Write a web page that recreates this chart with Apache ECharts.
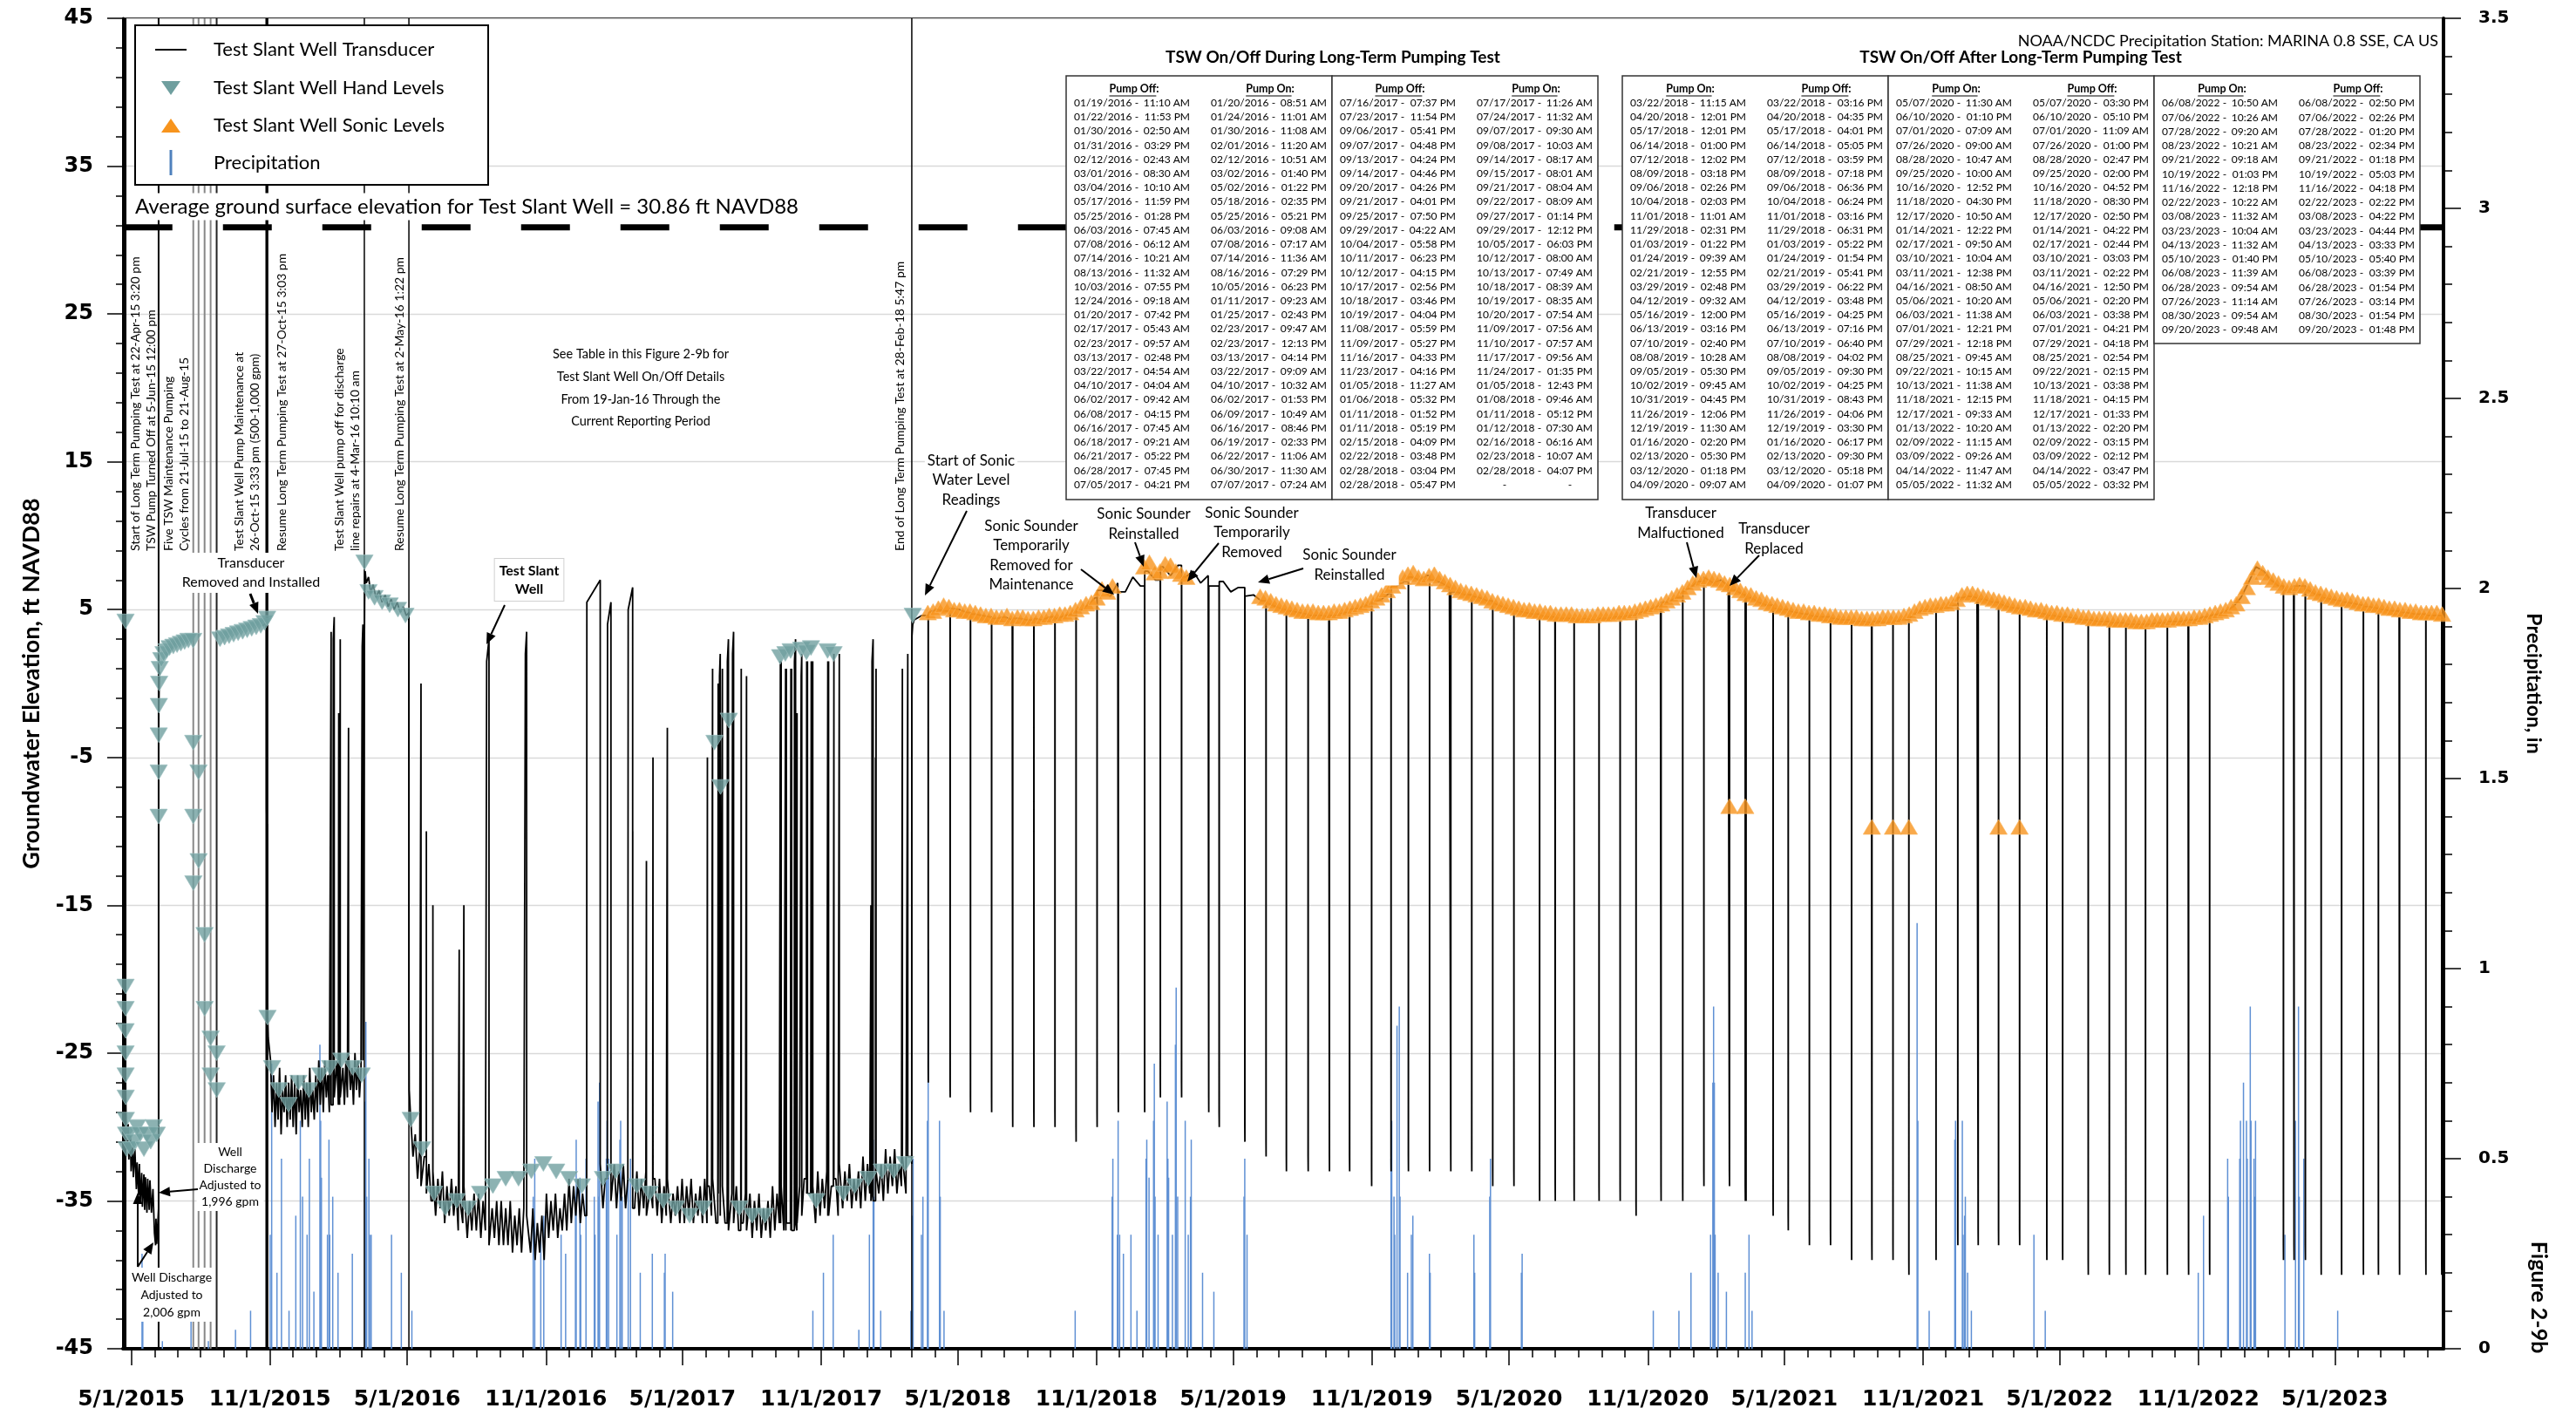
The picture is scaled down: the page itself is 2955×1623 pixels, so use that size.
<!DOCTYPE html>
<html>
<head>
<meta charset="utf-8">
<title>Figure 2-9b</title>
<script src="https://cdn.jsdelivr.net/npm/echarts@6/dist/echarts.min.js"></script>
<style>
html,body{margin:0;padding:0;background:#ffffff;}
#chart{width:2955px;height:1623px;}
</style>
</head>
<body>
<div id="chart"></div>
<script>
// ======================= DATA =======================
const X_MIN = '2015-04-20';
const X_MAX = '2023-09-22';
const xTickLabels = ['5/1/2015','11/1/2015','5/1/2016','11/1/2016','5/1/2017','11/1/2017','5/1/2018','11/1/2018','5/1/2019','11/1/2019','5/1/2020','11/1/2020','5/1/2021','11/1/2021','5/1/2022','11/1/2022','5/1/2023'];
const groundSurfaceElev = 30.86;

// Transducer: explicit readings (date, ft NAVD88)
const tsdEarly = [
 ['2015-04-20 00:00', 4.0], ['2015-04-22 15:20', 4.0], ['2015-04-22 17:00', -27], ['2015-04-23 12:00', -30.5],
 ['2015-04-25', -31.5], ['2015-04-26', -29.8], ['2015-04-27', -32.2], ['2015-04-29', -30.6], ['2015-04-30', -33], ['2015-05-02', -31.2], ['2015-05-03', -33.4], ['2015-05-05', -31.5],
 ['2015-05-07', -34.2], ['2015-05-08', -32.4], ['2015-05-10', -34.6], ['2015-05-11', -32.5], ['2015-05-12', -35.2], ['2015-05-14', -33.1], ['2015-05-15', -35.4], ['2015-05-17', -33.2],
 ['2015-05-18', -35.6], ['2015-05-19', -33.4], ['2015-05-21', -35.8], ['2015-05-22', -33.5], ['2015-05-24', -35.6], ['2015-05-25', -33.6], ['2015-05-27', -35.8], ['2015-05-29', -34.2],
 ['2015-05-31', -37.2], ['2015-06-01 12:00', -38.0], ['2015-06-02', -36.2], ['2015-06-03', -37.9], ['2015-06-05 11:00', -35.5],
 ['2015-06-05 13:00', -8], ['2015-06-05 18:00', -2], ['2015-06-06 12:00', 0.8], ['2015-06-07', null],
 ['2015-10-20', null], ['2015-10-21', 3.9], ['2015-10-26 15:30', 4.1], ['2015-10-26 17:00', -8.5],
 ['2015-10-27 06:00', -10], ['2015-10-27 15:00', -9.5], ['2015-10-27 18:00', -21.5], ['2015-10-29', -24]
];
const tsdC_start = '2015-11-01', tsdC_stepDays = 2;
const tsdC_vals = [
 -25.5,-29,-26.5,-30,-27,-29.5,-26,-30.5,-27.5,-29,-26.5,-30,-27,-29.5,-26.5,
 -30,-27,-30.5,-26.5,-29,-27.5,-30,-26.5,-29.5,-27,-30,-26,-29,-27.5,-29.5,-26.5,
 -29,-25.5,-28.5,-26,-29,-25.5,-28,-26.5,-29,-25.5,-28.5,-26,-28,-25.5,-28.5,
 -25,-28,-26,-28.5,-25.5,-28,-25,-27.5,-26,-28.5,-25,-27.5,-25.5,-28,-26
];
const tsdMarApr2016 = [
 ['2016-03-04 10:00', -25.5], ['2016-03-04 12:00', 2], ['2016-03-04 20:00', 5.5], ['2016-03-05 12:00', 7.6],
 ['2016-03-07', 6.8], ['2016-03-10', 7.2], ['2016-03-13', 6.1], ['2016-03-16', 6.7], ['2016-03-20', 5.8],
 ['2016-03-24', 6.3], ['2016-03-28', 5.5], ['2016-04-01', 6.0], ['2016-04-05', 5.2], ['2016-04-09', 5.7],
 ['2016-04-13', 5.0], ['2016-04-17', 5.5], ['2016-04-21', 4.8], ['2016-04-25', 5.2], ['2016-04-29', 4.6],
 ['2016-05-02 13:00', 4.8], ['2016-05-02 15:00', -22], ['2016-05-03', -27.5]
];
const tsdD_start = '2016-05-05', tsdD_stepDays = 3;
const tsdD_vals = [
 -29.5,-32,-30.5,-33.5,-31.5,-34,-32,-34.5,-32.5,-35,
 -33,-36,-33.5,-35.5,-33,-36.5,-34,-36,-33.5,-36,
 -34,-37,-34.5,-36.5,-34,-37.5,-35,-37,-34.5,-37,
 -34.5,-37.5,-35,-37,-34.5,-38,-35.5,-37.5,-35,-38,
 -35,-38,-35.5,-38,-35,-38.5,-36,-38,-35.5,-38.5,
 -35.5,-38.5,-36,-38.5,-35.5,-39,-36.5,-38.5,-36,-39,
 -34.5,-37.5,-35,-37,-34.5,-37.5,-35.5,-37,-34.5,-37,
 -33.5,-36.5,-34,-36,-33.5,-36.5,-34.5,-36,-33.5,-36,
 -32.5,-35.5,-33,-35,-32.5,-35.5,-33.5,-35,-32.5,-35,
 -32.5,-35.5,-33,-35,-32.5,-35.5,-33.5,-35,-33,-35.5,
 -33,-36,-33.5,-35.5,-33,-36,-34,-35.5,-33.5,-36,
 -33.5,-36.5,-34,-36,-33.5,-36.5,-34.5,-36,-34,-36.5,
 -33.5,-36.5,-34,-36,-33.5,-36.5,-34.5,-36,-34,-36.5,
 -33.5,-36.5,-34,-36,-33.5,-36.5,-34.5,-36,-34,-36.5,
 -34,-37,-34.5,-36.5,-34,-37,-35,-36.5,-34.5,-37,
 -34.5,-37.5,-35,-37,-34.5,-37.5,-35.5,-37,-35,-37.5,
 -34,-37,-34.5,-36.5,-34,-37,-35,-36.5,-34.5,-37,
 -33.5,-36.5,-34,-36,-33.5,-36.5,-34.5,-36,-34,-36.5,
 -33,-36,-33.5,-35.5,-33,-36,-34,-35.5,-33.5,-36,
 -32.5,-35.5,-33,-35,-32.5,-35.5,-33.5,-35,-33,-35.5,
 -32,-35,-32.5,-34.5,-32,-35,-33,-34.5,-32.5,-35,
 -31.5,-34.5,-32,-34,-31.5,-34.5,-32.5,-34,-32,-34.5,-32
];
const tsdEnd2018 = [['2018-02-28 17:40', -32.5], ['2018-02-28 19:00', 1.0], ['2018-03-01', 3.2], ['2018-03-02', 4.0]];
const tsdPost_start = '2018-03-04', tsdPost_stepDays = 10;
const tsdPost_vals = [
 4.3,4.6,4.8,5.0,4.9,5.1,5.0,4.8,4.7,4.6, 4.5,4.4,4.5,4.3,4.4,4.3,4.4,4.3,4.5,4.4,
 4.6,4.7,4.9,5.3,5.8,6.3,5.9,6.8,6.2,7.2, 6.6,7.6,7.0,7.9,7.3,8.0,7.2,7.6,6.8,7.3,
 6.6,6.9,6.2,6.5,5.9,6.0,5.6,5.4,5.2,5.0, 4.9,4.8,4.7,4.6,4.6,4.5,4.6,4.8,5.0,5.1,
 5.3,5.5,5.7,6.1,6.6,6.9,7.2,7.0,7.3,7.0, 6.8,6.5,6.2,6.0,5.9,5.8,5.6,5.4,5.2,5.0,
 4.9,4.8,4.7,4.6,4.5,4.5,4.4,4.4,4.3,4.4, 4.3,4.4,4.4,4.5,4.5,4.6,4.7,4.9,5.1,5.3,
 5.5,5.8,6.2,6.5,6.9,7.2,6.8,7.0,6.6,6.3, 6.0,5.8,5.5,5.3,5.1,5.0,4.9,4.8,4.7,4.6,
 4.5,4.5,4.4,4.3,4.3,4.2,4.2,4.1,4.2,4.1, 4.2,4.3,4.4,4.8,5.0,5.0,5.1,5.1,5.3,5.8,
 5.9,5.8,5.7,5.5,5.4,5.2,5.1,5.0,4.9,4.8, 4.7,4.6,4.5,4.5,4.4,4.3,4.3,4.2,4.2,4.1,
 4.1,4.0,4.0,4.0,4.0,4.1,4.1,4.2,4.2,4.3, 4.3,4.5,4.6,4.7,4.9,5.2,5.8,6.8,7.9,7.6,
 7.0,6.6,6.3,6.4,6.6,6.3,6.0,5.8,5.7,5.6, 5.5,5.4,5.3,5.2,5.1,5.0,4.9,4.9,4.8,4.7,
 4.7,4.6,4.6,4.6
];

// Table: TSW On/Off During Long-Term Pumping Test
const pumpOff1 = ['01/19/2016 - 11:10 AM','01/22/2016 - 11:53 PM','01/30/2016 - 02:50 AM','01/31/2016 - 03:29 PM','02/12/2016 - 02:43 AM','03/01/2016 - 08:30 AM','03/04/2016 - 10:10 AM','05/17/2016 - 11:59 PM','05/25/2016 - 01:28 PM','06/03/2016 - 07:45 AM','07/08/2016 - 06:12 AM','07/14/2016 - 10:21 AM','08/13/2016 - 11:32 AM','10/03/2016 - 07:55 PM','12/24/2016 - 09:18 AM','01/20/2017 - 07:42 PM','02/17/2017 - 05:43 AM','02/23/2017 - 09:57 AM','03/13/2017 - 02:48 PM','03/22/2017 - 04:54 AM','04/10/2017 - 04:04 AM','06/02/2017 - 09:42 AM','06/08/2017 - 04:15 PM','06/16/2017 - 07:45 AM','06/18/2017 - 09:21 AM','06/21/2017 - 05:22 PM','06/28/2017 - 07:45 PM','07/05/2017 - 04:21 PM',
 '07/16/2017 - 07:37 PM','07/23/2017 - 11:54 PM','09/06/2017 - 05:41 PM','09/07/2017 - 04:48 PM','09/13/2017 - 04:24 PM','09/14/2017 - 04:46 PM','09/20/2017 - 04:26 PM','09/21/2017 - 04:01 PM','09/25/2017 - 07:50 PM','09/29/2017 - 04:22 AM','10/04/2017 - 05:58 PM','10/11/2017 - 06:23 PM','10/12/2017 - 04:15 PM','10/17/2017 - 02:56 PM','10/18/2017 - 03:46 PM','10/19/2017 - 04:04 PM','11/08/2017 - 05:59 PM','11/09/2017 - 05:27 PM','11/16/2017 - 04:33 PM','11/23/2017 - 04:16 PM','01/05/2018 - 11:27 AM','01/06/2018 - 05:32 PM','01/11/2018 - 01:52 PM','01/11/2018 - 05:19 PM','02/15/2018 - 04:09 PM','02/22/2018 - 03:48 PM','02/28/2018 - 03:04 PM','02/28/2018 - 05:47 PM'];
const pumpOn1 = ['01/20/2016 - 08:51 AM','01/24/2016 - 11:01 AM','01/30/2016 - 11:08 AM','02/01/2016 - 11:20 AM','02/12/2016 - 10:51 AM','03/02/2016 - 01:40 PM','05/02/2016 - 01:22 PM','05/18/2016 - 02:35 PM','05/25/2016 - 05:21 PM','06/03/2016 - 09:08 AM','07/08/2016 - 07:17 AM','07/14/2016 - 11:36 AM','08/16/2016 - 07:29 PM','10/05/2016 - 06:23 PM','01/11/2017 - 09:23 AM','01/25/2017 - 02:43 PM','02/23/2017 - 09:47 AM','02/23/2017 - 12:13 PM','03/13/2017 - 04:14 PM','03/22/2017 - 09:09 AM','04/10/2017 - 10:32 AM','06/02/2017 - 01:53 PM','06/09/2017 - 10:49 AM','06/16/2017 - 08:46 PM','06/19/2017 - 02:33 PM','06/22/2017 - 11:06 AM','06/30/2017 - 11:30 AM','07/07/2017 - 07:24 AM',
 '07/17/2017 - 11:26 AM','07/24/2017 - 11:32 AM','09/07/2017 - 09:30 AM','09/08/2017 - 10:03 AM','09/14/2017 - 08:17 AM','09/15/2017 - 08:01 AM','09/21/2017 - 08:04 AM','09/22/2017 - 08:09 AM','09/27/2017 - 01:14 PM','09/29/2017 - 12:12 PM','10/05/2017 - 06:03 PM','10/12/2017 - 08:00 AM','10/13/2017 - 07:49 AM','10/18/2017 - 08:39 AM','10/19/2017 - 08:35 AM','10/20/2017 - 07:54 AM','11/09/2017 - 07:56 AM','11/10/2017 - 07:57 AM','11/17/2017 - 09:56 AM','11/24/2017 - 01:35 PM','01/05/2018 - 12:43 PM','01/08/2018 - 09:46 AM','01/11/2018 - 05:12 PM','01/12/2018 - 07:30 AM','02/16/2018 - 06:16 AM','02/23/2018 - 10:07 AM','02/28/2018 - 04:07 PM','-'];
// recovered level reached during each pump-off; null = drawn in explicit readings
const recovPeak1 = [3.5,4.5,-2,3,-3,4,null,0,-10,-15,-18,-15,3,3.5,7,5.5,6.5,-10,-12,-5,-3,-5,1,0,2,1,3,3.5,
 1,0.5,1.5,1.5,1,1,1,1,3,-2,2,1.5,1.5,1.5,1.5,1.5,1.5,1.5,2,2,-15,3,-5,1,1,2,-10,null];

// Table: TSW On/Off After Long-Term Pumping Test
const pumpOn2 = ['03/22/2018 - 11:15 AM','04/20/2018 - 12:01 PM','05/17/2018 - 12:01 PM','06/14/2018 - 01:00 PM','07/12/2018 - 12:02 PM','08/09/2018 - 03:18 PM','09/06/2018 - 02:26 PM','10/04/2018 - 02:03 PM','11/01/2018 - 11:01 AM','11/29/2018 - 02:31 PM','01/03/2019 - 01:22 PM','01/24/2019 - 09:39 AM','02/21/2019 - 12:55 PM','03/29/2019 - 02:48 PM','04/12/2019 - 09:32 AM','05/16/2019 - 12:00 PM','06/13/2019 - 03:16 PM','07/10/2019 - 02:40 PM','08/08/2019 - 10:28 AM','09/05/2019 - 05:30 PM','10/02/2019 - 09:45 AM','10/31/2019 - 04:45 PM','11/26/2019 - 12:06 PM','12/19/2019 - 11:30 AM','01/16/2020 - 02:20 PM','02/13/2020 - 05:30 PM','03/12/2020 - 01:18 PM','04/09/2020 - 09:07 AM',
 '05/07/2020 - 11:30 AM','06/10/2020 - 01:10 PM','07/01/2020 - 07:09 AM','07/26/2020 - 09:00 AM','08/28/2020 - 10:47 AM','09/25/2020 - 10:00 AM','10/16/2020 - 12:52 PM','11/18/2020 - 04:30 PM','12/17/2020 - 10:50 AM','01/14/2021 - 12:22 PM','02/17/2021 - 09:50 AM','03/10/2021 - 10:04 AM','03/11/2021 - 12:38 PM','04/16/2021 - 08:50 AM','05/06/2021 - 10:20 AM','06/03/2021 - 11:38 AM','07/01/2021 - 12:21 PM','07/29/2021 - 12:18 PM','08/25/2021 - 09:45 AM','09/22/2021 - 10:15 AM','10/13/2021 - 11:38 AM','11/18/2021 - 12:15 PM','12/17/2021 - 09:33 AM','01/13/2022 - 10:20 AM','02/09/2022 - 11:15 AM','03/09/2022 - 09:26 AM','04/14/2022 - 11:47 AM','05/05/2022 - 11:32 AM',
 '06/08/2022 - 10:50 AM','07/06/2022 - 10:26 AM','07/28/2022 - 09:20 AM','08/23/2022 - 10:21 AM','09/21/2022 - 09:18 AM','10/19/2022 - 01:03 PM','11/16/2022 - 12:18 PM','02/22/2023 - 10:22 AM','03/08/2023 - 11:32 AM','03/23/2023 - 10:04 AM','04/13/2023 - 11:32 AM','05/10/2023 - 01:40 PM','06/08/2023 - 11:39 AM','06/28/2023 - 09:54 AM','07/26/2023 - 11:14 AM','08/30/2023 - 09:54 AM','09/20/2023 - 09:48 AM'];
const pumpOff2 = ['03/22/2018 - 03:16 PM','04/20/2018 - 04:35 PM','05/17/2018 - 04:01 PM','06/14/2018 - 05:05 PM','07/12/2018 - 03:59 PM','08/09/2018 - 07:18 PM','09/06/2018 - 06:36 PM','10/04/2018 - 06:24 PM','11/01/2018 - 03:16 PM','11/29/2018 - 06:31 PM','01/03/2019 - 05:22 PM','01/24/2019 - 01:54 PM','02/21/2019 - 05:41 PM','03/29/2019 - 06:22 PM','04/12/2019 - 03:48 PM','05/16/2019 - 04:25 PM','06/13/2019 - 07:16 PM','07/10/2019 - 06:40 PM','08/08/2019 - 04:02 PM','09/05/2019 - 09:30 PM','10/02/2019 - 04:25 PM','10/31/2019 - 08:43 PM','11/26/2019 - 04:06 PM','12/19/2019 - 03:30 PM','01/16/2020 - 06:17 PM','02/13/2020 - 09:30 PM','03/12/2020 - 05:18 PM','04/09/2020 - 01:07 PM',
 '05/07/2020 - 03:30 PM','06/10/2020 - 05:10 PM','07/01/2020 - 11:09 AM','07/26/2020 - 01:00 PM','08/28/2020 - 02:47 PM','09/25/2020 - 02:00 PM','10/16/2020 - 04:52 PM','11/18/2020 - 08:30 PM','12/17/2020 - 02:50 PM','01/14/2021 - 04:22 PM','02/17/2021 - 02:44 PM','03/10/2021 - 03:03 PM','03/11/2021 - 02:22 PM','04/16/2021 - 12:50 PM','05/06/2021 - 02:20 PM','06/03/2021 - 03:38 PM','07/01/2021 - 04:21 PM','07/29/2021 - 04:18 PM','08/25/2021 - 02:54 PM','09/22/2021 - 02:15 PM','10/13/2021 - 03:38 PM','11/18/2021 - 04:15 PM','12/17/2021 - 01:33 PM','01/13/2022 - 02:20 PM','02/09/2022 - 03:15 PM','03/09/2022 - 02:12 PM','04/14/2022 - 03:47 PM','05/05/2022 - 03:32 PM',
 '06/08/2022 - 02:50 PM','07/06/2022 - 02:26 PM','07/28/2022 - 01:20 PM','08/23/2022 - 02:34 PM','09/21/2022 - 01:18 PM','10/19/2022 - 05:03 PM','11/16/2022 - 04:18 PM','02/22/2023 - 02:22 PM','03/08/2023 - 04:22 PM','03/23/2023 - 04:44 PM','04/13/2023 - 03:33 PM','05/10/2023 - 05:40 PM','06/08/2023 - 03:39 PM','06/28/2023 - 01:54 PM','07/26/2023 - 03:14 PM','08/30/2023 - 01:54 PM','09/20/2023 - 01:48 PM'];
// deepest level during each pumping run
const drawdown2 = [-27,-28,-29,-29,-30,-30,-30,-31,-30,-29, -29,-28,-28,-29,-30,-31,-32,-33,-33,-33,-33,-34,-33,-33, -33,-33,-33,-34,
 -34,-35,-35,-35,-35,-35,-36,-35,-35,-34,-34,-35,-35,-36,-37,-38,-38,-39,-39,-39,-40,-39,-38,-38,-38,-38,-39,-39,
 -40,-40,-40,-40,-40,-40,-40,-39,-39,-39,-40,-40,-40,-40,-40,-40,-40];

// Hand levels
const handLevels = [
 ['2015-04-22 15:00', 4.2], ['2015-04-22 16:00', -20.5], ['2015-04-22 16:20', -22], ['2015-04-22 16:40', -23.5], ['2015-04-22 17:00', -25],
 ['2015-04-22 18:00', -26.5], ['2015-04-22 20:00', -28], ['2015-04-23 00:00', -29.5], ['2015-04-23 08:00', -30.5], ['2015-04-24', -31.5],
 ['2015-04-27', -30.5], ['2015-04-30', -31.5], ['2015-05-04', -31], ['2015-05-08', -30], ['2015-05-12', -30.5], ['2015-05-17', -31.5],
 ['2015-05-21', -30.5], ['2015-05-26', -31], ['2015-05-30', -30], ['2015-06-03', -30.5],
 ['2015-06-05 13:00', -9], ['2015-06-05 14:00', -6], ['2015-06-05 16:00', -3.5], ['2015-06-05 20:00', -1.5], ['2015-06-06 06:00', 0],
 ['2015-06-07', 1.0], ['2015-06-09', 1.6], ['2015-06-12', 2.0], ['2015-06-16', 2.2], ['2015-06-20', 2.4], ['2015-06-25', 2.5],
 ['2015-06-30', 2.6], ['2015-07-05', 2.7], ['2015-07-10', 2.8], ['2015-07-15', 2.9],
 ['2015-07-21 09:00', 2.9], ['2015-07-21 11:00', -4], ['2015-07-21 13:00', -9], ['2015-07-21 15:00', -13.5],
 ['2015-07-28 11:00', -6], ['2015-07-28 14:00', -12], ['2015-08-05 11:00', -17], ['2015-08-05 14:00', -22],
 ['2015-08-13 11:00', -24], ['2015-08-13 14:00', -26.5], ['2015-08-21 11:00', -25], ['2015-08-21 14:00', -27.5],
 ['2015-08-26', 3.0], ['2015-09-01', 3.1], ['2015-09-07', 3.2], ['2015-09-13', 3.3], ['2015-09-19', 3.4], ['2015-09-25', 3.5],
 ['2015-10-01', 3.6], ['2015-10-07', 3.7], ['2015-10-13', 3.8], ['2015-10-19', 3.9], ['2015-10-24', 4.1], ['2015-10-27 12:00', 4.4],
 ['2015-10-28', -22.6], ['2015-11-03', -26], ['2015-11-12', -27.5], ['2015-11-25', -28.5], ['2015-12-08', -27], ['2015-12-22', -27.5],
 ['2016-01-06', -26.5], ['2016-01-19', -26], ['2016-02-03', -25.5], ['2016-02-18', -26], ['2016-03-01', -26.5],
 ['2016-03-04 14:00', 8.2], ['2016-03-10', 6.2], ['2016-03-18', 5.8], ['2016-03-28', 5.5], ['2016-04-07', 5.3], ['2016-04-18', 5.0], ['2016-04-28', 4.6],
 ['2016-05-05', -29.5], ['2016-05-20', -31.5], ['2016-06-05', -34.5], ['2016-06-20', -35.5], ['2016-07-05', -35], ['2016-07-20', -35.5],
 ['2016-08-05', -34.5], ['2016-08-22', -34], ['2016-09-08', -33.5], ['2016-09-25', -33.5], ['2016-10-12', -33], ['2016-10-28', -32.5],
 ['2016-11-14', -33], ['2016-12-01', -33.5], ['2016-12-18', -34], ['2017-01-15', -33.5], ['2017-02-01', -33], ['2017-03-01', -34],
 ['2017-03-18', -34.5], ['2017-04-05', -35], ['2017-04-22', -35.5], ['2017-05-10', -36], ['2017-05-28', -35.5], ['2017-06-12', -4],
 ['2017-06-20', -7], ['2017-07-01', -2.5], ['2017-07-15', -35.5], ['2017-08-01', -36], ['2017-08-18', -36], ['2017-09-07', 1.8],
 ['2017-09-14', 2.0], ['2017-09-21', 2.2], ['2017-10-05', 2.3], ['2017-10-12', 2.1], ['2017-10-18', 2.4], ['2017-10-25', -35],
 ['2017-11-09', 2.2], ['2017-11-17', 2.0], ['2017-11-30', -34.5], ['2017-12-15', -34], ['2018-01-02', -33.5], ['2018-01-20', -33],
 ['2018-02-05', -33], ['2018-02-20', -32.5], ['2018-03-02', 4.6]
];

// Sonic levels: weekly readings from start (null = sounder removed)
const sonicStart = '2018-03-22', sonicStepDays = 7;
const sonicVals = [
 4.8,4.9,5.1,5.3,5.2,5.0,5.0,4.9,4.9,4.8, 4.7,4.6,4.6,4.5,4.5,4.6,4.4,4.5,4.5,4.4,
 4.4,4.5,4.5,4.6,4.6,4.7,4.7,4.8,5.0,5.2, 5.4,5.5,5.8,6.4,6.2,6.6,null,null,null,null,
 null,7.9,8.2,7.5,7.6,8.1,8.0,7.6,7.4,7.2, null,null,null,null,null,null,null,null,null,null,
 null,null,null,5.9,5.8,5.6,5.4,5.3,5.2,5.1, 5.0,4.9,4.9,4.9,4.8,4.8,4.8,4.9,4.9,5.0,
 5.1,5.2,5.3,5.4,5.6,5.8,6.0,6.3,6.6,6.9, 7.2,7.4,7.5,7.2,7.1,7.3,7.4,7.1,6.9,6.7,
 6.5,6.3,6.2,6.1,6.0,5.9,5.8,5.6,5.5,5.4, 5.3,5.2,5.1,5.0,5.0,4.9,4.9,4.8,4.8,4.7,
 4.7,4.7,4.7,4.6,4.6,4.6,4.6,4.7,4.7,4.7, 4.7,4.8,4.8,4.8,4.9,5.0,5.1,5.2,5.3,5.4,
 5.6,5.8,6.0,6.2,6.5,6.8,7.0,7.1,7.2,7.1, 7.0,6.8,6.7,6.5,6.3,6.1,6.0,5.8,5.7,5.5,
 5.4,5.3,5.2,5.1,5.0,4.9,4.9,4.8,4.8,4.7, 4.7,4.6,4.6,4.5,4.5,4.5,4.5,4.4,4.4,4.4,
 4.4,4.5,4.5,4.5,4.5,4.6,4.7,4.9,5.1,5.2, 5.3,5.3,5.4,5.4,5.5,5.7,6.0,6.1,6.1,6.0,
 5.9,5.8,5.7,5.6,5.5,5.4,5.3,5.2,5.2,5.1, 5.0,5.0,4.9,4.8,4.8,4.7,4.7,4.6,4.6,4.5,
 4.5,4.4,4.4,4.4,4.4,4.3,4.3,4.3,4.3,4.2, 4.2,4.2,4.3,4.3,4.3,4.3,4.4,4.4,4.4,4.4,
 4.5,4.5,4.6,4.7,4.8,4.9,5.0,5.2,5.4,5.9, 6.5,7.2,7.8,7.5,7.2,7.0,6.8,6.6,6.5,6.6,
 6.7,6.6,6.4,6.2,6.1,6.0,5.9,5.8,5.7,5.7, 5.6,5.5,5.4,5.4,5.3,5.3,5.2,5.1,5.1,5.0,
 5.0,4.9,4.9,4.8,4.8,4.8,4.8,4.7
];
const sonicLow = [['2021-02-17 12:00', -8.3], ['2021-03-10 12:00', -8.3], ['2021-08-25 12:00', -9.7], ['2021-09-22 12:00', -9.7], ['2021-10-13 12:00', -9.7], ['2022-02-09 12:00', -9.7], ['2022-03-09 12:00', -9.7]];

// Daily precipitation, inches (NOAA/NCDC MARINA 0.8 SSE)
const precip = [
 ['2015-05-14',0.25],['2015-05-15',0.13],['2015-06-10',0.02],['2015-07-18',0.08],['2015-08-10',0.02],['2015-09-15',0.05],['2015-10-05',0.1],
 ['2015-10-31',0.3],['2015-11-02',0.75],['2015-11-09',0.2],['2015-11-15',0.5],['2015-11-25',0.1],['2015-12-04',0.35],['2015-12-10',0.6],
 ['2015-12-13',0.4],['2015-12-19',0.3],['2015-12-22',0.5],['2015-12-28',0.15],
 ['2016-01-05',0.8],['2016-01-06',0.6],['2016-01-07',0.45],['2016-01-15',0.3],['2016-01-17',0.55],['2016-01-18',0.3],['2016-01-22',0.4],
 ['2016-01-29',0.2],['2016-02-17',0.25],['2016-03-05',0.65],['2016-03-06',0.86],['2016-03-07',0.4],['2016-03-10',0.5],['2016-03-11',0.3],
 ['2016-03-13',0.3],['2016-04-09',0.3],['2016-04-22',0.2],['2016-05-06',0.1],['2016-10-14',0.4],['2016-10-16',0.5],['2016-10-24',0.3],
 ['2016-10-28',0.35],['2016-11-20',0.3],['2016-11-26',0.25],['2016-12-09',0.4],['2016-12-10',0.55],['2016-12-15',0.45],['2016-12-16',0.3],
 ['2016-12-23',0.5],
 ['2017-01-03',0.4],['2017-01-04',0.3],['2017-01-08',0.65],['2017-01-09',0.4],['2017-01-10',0.7],['2017-01-19',0.5],['2017-01-20',0.6],
 ['2017-01-22',0.5],['2017-02-02',0.3],['2017-02-06',0.55],['2017-02-07',0.6],['2017-02-09',0.4],['2017-02-17',0.45],['2017-02-20',0.5],
 ['2017-03-05',0.2],['2017-03-21',0.25],['2017-04-06',0.2],['2017-04-07',0.25],['2017-04-17',0.15],['2017-10-20',0.1],['2017-11-03',0.2],
 ['2017-11-16',0.3],['2017-12-20',0.05],
 ['2018-01-03',0.3],['2018-01-08',0.55],['2018-01-09',0.4],['2018-01-18',0.1],['2018-02-27',0.1],['2018-03-01',0.35],['2018-03-02',0.5],
 ['2018-03-13',0.3],['2018-03-15',0.4],['2018-03-21',0.6],['2018-03-22',1.05],['2018-04-06',0.6],['2018-04-07',0.4],['2018-04-12',0.1],
 ['2018-10-03',0.1],['2018-11-21',0.4],['2018-11-22',0.5],['2018-11-28',0.3],['2018-11-29',0.6],['2018-12-01',0.3],['2018-12-06',0.25],
 ['2018-12-16',0.3],['2018-12-24',0.1],
 ['2019-01-05',0.5],['2019-01-06',0.55],['2019-01-09',0.45],['2019-01-15',0.6],['2019-01-16',0.75],['2019-01-17',0.4],['2019-01-21',0.3],
 ['2019-02-02',0.65],['2019-02-03',0.5],['2019-02-04',0.45],['2019-02-09',0.3],['2019-02-13',0.8],['2019-02-14',0.95],['2019-02-16',0.4],
 ['2019-02-26',0.6],['2019-03-02',0.3],['2019-03-05',0.4],['2019-03-06',0.55],['2019-03-21',0.2],['2019-04-05',0.15],['2019-05-15',0.4],
 ['2019-05-16',0.5],['2019-05-19',0.3],['2019-11-26',0.5],['2019-11-27',0.6],['2019-11-30',0.4],['2019-12-01',0.3],['2019-12-04',0.85],
 ['2019-12-07',0.9],['2019-12-08',0.4],['2019-12-18',0.2],['2019-12-23',0.3],['2019-12-25',0.35],
 ['2020-01-16',0.25],['2020-01-17',0.2],['2020-03-15',0.3],['2020-03-16',0.2],['2020-04-05',0.4],['2020-04-06',0.5],['2020-05-17',0.2],
 ['2020-05-18',0.25],['2020-11-08',0.1],['2020-12-12',0.1],['2020-12-28',0.2],
 ['2021-01-23',0.3],['2021-01-26',0.7],['2021-01-27',0.9],['2021-01-28',0.7],['2021-01-29',0.3],['2021-02-02',0.2],['2021-02-13',0.15],
 ['2021-03-10',0.2],['2021-03-15',0.3],['2021-03-19',0.1],['2021-10-24',1.12],['2021-10-25',0.6],['2021-11-09',0.1],['2021-12-13',0.55],
 ['2021-12-14',0.6],['2021-12-23',0.6],['2021-12-24',0.3],['2021-12-26',0.35],['2021-12-27',0.4],['2021-12-30',0.2],
 ['2022-01-04',0.1],['2022-03-28',0.3],['2022-04-12',0.1],['2022-11-01',0.2],['2022-11-08',0.35],['2022-12-10',0.5],['2022-12-11',0.4],
 ['2022-12-26',0.5],['2022-12-27',0.6],['2022-12-31',0.7],
 ['2023-01-04',0.6],['2023-01-05',0.5],['2023-01-09',0.9],['2023-01-10',0.6],['2023-01-14',0.5],['2023-01-15',0.4],['2023-01-16',0.6],
 ['2023-02-24',0.3],['2023-03-10',0.6],['2023-03-14',0.9],['2023-03-15',0.4],['2023-03-21',0.5],['2023-05-05',0.1]
];

// Event reference lines
const eventLines = [
 ['2015-04-22 15:20', '#000', 2], ['2015-06-05 12:00', '#000', 2],
 ['2015-07-21 12:00', '#888', 2], ['2015-07-28 12:00', '#888', 2], ['2015-08-05 12:00', '#888', 2], ['2015-08-13 12:00', '#888', 2], ['2015-08-21 12:00', '#222', 2],
 ['2015-10-26 15:33', '#000', 2.5], ['2015-10-27 15:03', '#000', 2.5], ['2016-03-04 10:10', '#000', 1.5], ['2016-05-02 13:22', '#000', 1.5], ['2018-02-28 17:47', '#000', 1.5]
];

// ======================= HELPERS =======================
const DAY = 86400000, HOUR = 3600000;
function pISO(s){
  const parts = s.split(' ');
  const d = parts[0].split('-').map(Number);
  let h = 0, mi = 0;
  if (parts[1]) { const tm = parts[1].split(':').map(Number); h = tm[0]; mi = tm[1]; }
  return Date.UTC(d[0], d[1]-1, d[2], h, mi);
}
function pTab(s){
  const m = s.match(/(\d+)\/(\d+)\/(\d+)\s*-\s*(\d+):(\d+)\s*(AM|PM)/);
  if (!m) return null;
  let h = (+m[4]) % 12; if (m[6] === 'PM') h += 12;
  return Date.UTC(+m[3], +m[1]-1, +m[2], h, +m[5]);
}
function fmtISO(t){ const d = new Date(t); return d.getUTCFullYear()+'-'+String(d.getUTCMonth()+1).padStart(2,'0')+'-'+String(d.getUTCDate()).padStart(2,'0'); }
function seqPts(start, step, vals){ const t0 = pISO(start); return vals.map((v,i)=>[t0 + i*step*DAY, v]); }

function buildTransducer(){
  let B = [];
  const add = arr => arr.forEach(p => B.push([pISO(p[0]), p[1]]));
  add(tsdEarly);
  seqPts(tsdC_start, tsdC_stepDays, tsdC_vals).forEach(p => B.push(p));
  add(tsdMarApr2016);
  seqPts(tsdD_start, tsdD_stepDays, tsdD_vals).forEach(p => B.push(p));
  add(tsdEnd2018);
  seqPts(tsdPost_start, tsdPost_stepDays, tsdPost_vals).forEach(p => B.push(p));
  B.sort((a,b)=>a[0]-b[0]);
  const ev = [];
  pumpOff1.forEach((s,i)=>{
    const pk = recovPeak1[i]; if (pk == null) return;
    const a = pTab(s), b = pTab(pumpOn1[i]); if (a == null || b == null) return;
    ev.push({a, b, up:true, v:pk});
  });
  pumpOn2.forEach((s,i)=>{
    const a = pTab(s), b = pTab(pumpOff2[i]);
    ev.push({a, b, up:false, v:drawdown2[i]});
  });
  B = B.filter(p => !ev.some(e => p[0] > e.a && p[0] < e.b + HOUR));
  const out = B.slice();
  ev.forEach(e => {
    let before = null, after = null;
    for (const p of B) {
      if (p[1] == null) continue;
      if (p[0] <= e.a) before = p[1];
      else if (p[0] >= e.b && after == null) after = p[1];
    }
    if (before == null) before = after; if (after == null) after = before;
    out.push([e.a, before]);
    if (e.up) {
      if (e.b - e.a > DAY) out.push([e.a + 6*HOUR, e.v - 1.5]);
      out.push([e.b, e.v]);
      out.push([e.b + 0.5*HOUR, after]);
    } else {
      out.push([e.a + HOUR, e.v + 1]);
      out.push([e.b, e.v]);
      out.push([e.b + HOUR, after]);
    }
  });
  out.sort((a,b)=>a[0]-b[0]);
  return out;
}

// ======================= CHART =======================
const chart = echarts.init(document.getElementById('chart'), null, {renderer:'canvas', width:2955, height:1623});
const FONT = 'Lato, "Open Sans", "Noto Sans", sans-serif';
const AXFONT = '"DejaVu Sans", "Liberation Sans", sans-serif';

const tMin = pISO(X_MIN), tMax = pISO(X_MAX);
const nDays = Math.round((tMax - tMin)/DAY);
const dayCats = [];
for (let i = 0; i <= nDays; i++) dayCats.push(fmtISO(tMin + i*DAY));
const majorMap = {};
xTickLabels.forEach(l => { const p = l.split('/').map(Number); majorMap[fmtISO(Date.UTC(p[2], p[0]-1, p[1]))] = l; });

const tsdData = buildTransducer();
const handData = handLevels.map(p => [pISO(p[0]), p[1]]);
const sonicData = seqPts(sonicStart, sonicStepDays, sonicVals).filter(p => p[1] != null).concat(sonicLow.map(p => [pISO(p[0]), p[1]]));
const precipData = precip.map(p => [pISO(p[0]) + 12*HOUR, p[1]]);

const HAND_COLOR = '#6f9f9f', SONIC_COLOR = '#f7941d', PRECIP_COLOR = '#5f90d4';

const series = [];
series.push({name:'Precipitation', type:'bar', xAxisIndex:0, yAxisIndex:1, data:precipData, barWidth:1.5, itemStyle:{color:PRECIP_COLOR}, z:1, silent:true});
eventLines.forEach(e => {
  const t = pISO(e[0]);
  series.push({type:'line', xAxisIndex:0, yAxisIndex:0, data:[[t,-45],[t,45]], symbol:'none', lineStyle:{color:e[1], width:e[2]}, z:2, silent:true});
});
series.push({name:'Test Slant Well Transducer', type:'line', xAxisIndex:0, yAxisIndex:0, data:tsdData, symbol:'none', showSymbol:false, connectNulls:false, lineStyle:{color:'#000', width:1.8}, z:4, silent:true});
series.push({name:'Test Slant Well Hand Levels', type:'scatter', xAxisIndex:0, yAxisIndex:0, data:handData, symbol:'triangle', symbolRotate:180, symbolSize:[20,17], itemStyle:{color:HAND_COLOR, borderColor:'#9cc0c0', borderWidth:0.8}, z:5, silent:true});
series.push({name:'Test Slant Well Sonic Levels', type:'scatter', xAxisIndex:0, yAxisIndex:0, data:sonicData, symbol:'triangle', symbolSize:[20,17], itemStyle:{color:SONIC_COLOR, borderColor:'#fbb560', borderWidth:0.8}, z:6, silent:true});
series.push({name:'Ground surface', type:'line', xAxisIndex:0, yAxisIndex:0, data:[[tMin, groundSurfaceElev],[tMax, groundSurfaceElev]], symbol:'none', lineStyle:{color:'#000', width:7, type:[56,58]}, z:7, silent:true});

const option = {
  animation:false,
  backgroundColor:'#ffffff',
  grid:{left:141, right:152, top:21, bottom:76, show:true, borderColor:'#000', borderWidth:2, backgroundColor:'transparent'},
  xAxis:[
    {type:'time', min:tMin, max:tMax, show:false},
    {type:'category', data:dayCats, boundaryGap:false, position:'bottom',
      axisLine:{show:true, onZero:false, lineStyle:{color:'#000', width:4}},
      axisTick:{show:true, length:10, interval:(i,v)=>v.slice(8)==='01', lineStyle:{color:'#000', width:1.5}},
      axisLabel:{show:false}, splitLine:{show:false}},
    {type:'category', data:dayCats, boundaryGap:false, position:'bottom',
      axisLine:{show:false, onZero:false},
      axisTick:{show:true, length:19, interval:(i,v)=>!!majorMap[v], lineStyle:{color:'#000', width:1.5}},
      axisLabel:{show:true, interval:(i,v)=>!!majorMap[v], formatter:v=>majorMap[v]||'', margin:46, fontFamily:AXFONT, fontWeight:'bold', fontSize:25, color:'#000'},
      splitLine:{show:false}}
  ],
  yAxis:[
    {type:'value', min:-45, max:45, interval:10, position:'left',
      name:'Groundwater Elevation, ft NAVD88', nameLocation:'middle', nameGap:91, nameRotate:90,
      nameTextStyle:{fontFamily:FONT, fontWeight:'bold', fontSize:27, color:'#000'},
      axisLine:{show:true, onZero:false, lineStyle:{color:'#000', width:3}},
      axisTick:{show:true, length:18, lineStyle:{color:'#000', width:1.5}},
      minorTick:{show:true, splitNumber:5, length:8, lineStyle:{color:'#000', width:1.5}},
      axisLabel:{margin:34, fontFamily:AXFONT, fontWeight:'bold', fontSize:24, color:'#000'},
      splitLine:{show:true, lineStyle:{color:'#d9d9d9', width:1.3}}},
    {type:'value', min:0, max:3.5, interval:0.5, position:'right',
      name:'Precipitation, in', nameLocation:'middle', nameGap:92, nameRotate:-90,
      nameTextStyle:{fontFamily:FONT, fontWeight:'bold', fontSize:23, color:'#000'},
      axisLine:{show:true, onZero:false, lineStyle:{color:'#000', width:4}},
      axisTick:{show:true, length:20, lineStyle:{color:'#000', width:1.5}},
      minorTick:{show:true, splitNumber:5, length:10, lineStyle:{color:'#000', width:1.5}},
      axisLabel:{margin:40, fontFamily:AXFONT, fontWeight:'bold', fontSize:20, color:'#000'},
      splitLine:{show:false}}
  ],
  series: series
};
chart.setOption(option);

// ======================= ANNOTATIONS / TABLES / LEGEND =======================
const G = [];
const X = t => chart.convertToPixel({xAxisIndex:0}, t);
function txt(x, y, text, o){
  o = o || {};
  return {type:'text', x:x, y:y, rotation:o.rot||0, z:100, zlevel:0,
    style:Object.assign({text:text, x:0, y:0, align:o.align||'center', verticalAlign:o.va||'middle',
      fontFamily:o.ff||FONT, fontSize:o.fs||16, fontWeight:o.fw||'normal', fill:o.fill||'#000',
      lineHeight:o.lh||Math.round((o.fs||16)*1.3)}, o.bg ? {backgroundColor:o.bg, padding:o.pad||[1,3], borderColor:o.bc, borderWidth:o.bw||0} : {})};
}
function arrow(x1,y1,x2,y2,w){
  w = w || 2;
  const ang = Math.atan2(y2-y1, x2-x1), L = 13, W = 5.5;
  const bx = x2 - L*Math.cos(ang), by = y2 - L*Math.sin(ang);
  const px = -Math.sin(ang)*W, py = Math.cos(ang)*W;
  G.push({type:'line', z:101, shape:{x1:x1,y1:y1,x2:bx,y2:by}, style:{stroke:'#000', lineWidth:w}});
  G.push({type:'polygon', z:101, shape:{points:[[x2,y2],[bx+px,by+py],[bx-px,by-py]]}, style:{fill:'#000'}});
}

// Legend
G.push({type:'rect', z:100, shape:{x:155, y:29, width:405, height:183}, style:{fill:'#fff', stroke:'#000', lineWidth:2}});
G.push({type:'line', z:101, shape:{x1:178, y1:57, x2:214, y2:57}, style:{stroke:'#000', lineWidth:2}});
G.push({type:'polygon', z:101, shape:{points:[[185,93],[207,93],[196,109]]}, style:{fill:HAND_COLOR}});
G.push({type:'polygon', z:101, shape:{points:[[185,152],[207,152],[196,136]]}, style:{fill:SONIC_COLOR}});
G.push({type:'line', z:101, shape:{x1:196, y1:172, x2:196, y2:201}, style:{stroke:'#4f81bd', lineWidth:3}});
['Test Slant Well Transducer','Test Slant Well Hand Levels','Test Slant Well Sonic Levels','Precipitation'].forEach((s,i)=>{
  G.push(txt(245, [57,101,144,187][i], s, {align:'left', fs:22}));
});

// Ground surface note
G.push(txt(153, 237, 'Average ground surface elevation for Test Slant Well = 30.86 ft NAVD88', {align:'left', fs:24, bg:'#fff', pad:[0,2]}));

// Rotated event notes
const evTexts = [
  ['2015-06-05 12:00', -17, 'Start of Long Term Pumping Test at 22-Apr-15 3:20 pm\nTSW Pump Turned Off at 5-Jun-15 12:00 pm'],
  ['2015-07-21 12:00', -19, 'Five TSW Maintenance Pumping\nCycles from 21-Jul-15 to 21-Aug-15'],
  ['2015-10-26 15:33', -22, 'Test Slant Well Pump Maintenance at\n26-Oct-15 3:33 pm (500-1,000 gpm)'],
  ['2015-10-27 15:03', 17, 'Resume Long Term Pumping Test at 27-Oct-15 3:03 pm'],
  ['2016-03-04 10:10', -19.5, 'Test Slant Well pump off for discharge\nline repairs at 4-Mar-16 10:10 am'],
  ['2016-05-02 13:22', -11, 'Resume Long Term Pumping Test at 2-May-16 1:22 pm'],
  ['2018-02-28 17:47', -13, 'End of Long Term Pumping Test at 28-Feb-18 5:47 pm']
];
evTexts.forEach(e => {
  G.push(txt(X(pISO(e[0])) + e[1], 632, e[2], {rot:Math.PI/2, align:'left', fs:14, lh:18}));
});

// Text notes
G.push(txt(288, 657, 'Transducer\nRemoved and Installed', {fs:16, lh:22, bg:'#fff'}));
arrow(287, 681, 296, 704, 3);
G.push(txt(607, 665, 'Test Slant\nWell', {fs:16, fw:'bold', lh:21, bg:'#fff', bc:'#d0d0d0', bw:1, pad:[3,5]}));
arrow(579, 694, 558, 739, 2);
G.push(txt(735, 445, 'See Table in this Figure 2-9b for\nTest Slant Well On/Off Details\nFrom 19-Jan-16 Through the\nCurrent Reporting Period', {fs:14.5, lh:25.7, bg:'#fff'}));
G.push(txt(264, 1350, 'Well\nDischarge\nAdjusted to\n1,996 gpm', {fs:14, lh:19, bg:'#fff'}));
arrow(227, 1364, 182, 1368, 2);
G.push(txt(197, 1485, 'Well Discharge\nAdjusted to\n2,006 gpm', {fs:14, lh:20, bg:'#fff'}));
arrow(158, 1453, 158, 1368, 2);
arrow(158, 1453, 176, 1425, 2);

G.push(txt(1114, 551, 'Start of Sonic\nWater Level\nReadings', {fs:17, lh:22.5, bg:'#fff'}));
arrow(1109, 586, 1061, 683, 2);
G.push(txt(1183, 637, 'Sonic Sounder\nTemporarily\nRemoved for\nMaintenance', {fs:17, lh:22.5, bg:'#fff'}));
arrow(1240, 653, 1278, 682, 2);
G.push(txt(1312, 601, 'Sonic Sounder\nReinstalled', {fs:17, lh:22.5, bg:'#fff'}));
arrow(1302, 622, 1312, 650, 2);
G.push(txt(1436, 611, 'Sonic Sounder\nTemporarily\nRemoved', {fs:17, lh:22.5, bg:'#fff'}));
arrow(1398, 623, 1362, 667, 2);
G.push(txt(1548, 648, 'Sonic Sounder\nReinstalled', {fs:17, lh:22.5, bg:'#fff'}));
arrow(1495, 652, 1443, 668, 2);
G.push(txt(1928, 600, 'Transducer\nMalfuctioned', {fs:17, lh:22.5, bg:'#fff'}));
arrow(1935, 622, 1946, 663, 2);
G.push(txt(2035, 618, 'Transducer\nReplaced', {fs:17, lh:22.5, bg:'#fff'}));
arrow(2018, 637, 1984, 672, 2);

G.push(txt(2797, 47, 'NOAA/NCDC Precipitation Station: MARINA 0.8 SSE, CA US', {align:'right', fs:18}));
G.push(txt(2912, 1488, 'Figure 2-9b', {rot:-Math.PI/2, fs:25, fw:'bold'}));

// Tables
const mctx = document.createElement('canvas').getContext('2d');
function tableBlock(L, top, bottom, h1, h2, c1, c2, firstY, rowH){
  const W = 305;
  G.push({type:'rect', z:100, shape:{x:L, y:top, width:W, height:bottom-top}, style:{fill:'#fff', stroke:'#333', lineWidth:1.5}});
  [[h1, L+78],[h2, L+234]].forEach(h => {
    G.push(txt(h[1], 102, h[0], {fs:12.5, fw:'bold'}));
    mctx.font = 'bold 12.5px Lato';
    const full = mctx.measureText(h[0]).width, w = mctx.measureText(h[0].replace(':','')).width;
    G.push({type:'line', z:101, shape:{x1:h[1]-full/2, y1:110, x2:h[1]-full/2+w, y2:110}, style:{stroke:'#000', lineWidth:1}});
  });
  [[c1, L+9],[c2, L+166]].forEach(col => {
    col[0].forEach((s,i) => {
      const y = firstY + i*rowH;
      if (s === '-') {
        G.push(txt(col[1]+32, y, '-', {fs:12}));
        G.push(txt(col[1]+107, y, '-', {fs:12}));
        return;
      }
      const parts = s.split(' - ');
      G.push(txt(col[1], y, parts[0], {align:'left', fs:12}));
      G.push(txt(col[1]+72, y, '-', {fs:12}));
      G.push(txt(col[1]+133, y, parts[1], {align:'right', fs:12}));
    });
  });
}
G.push(txt(1529, 66, 'TSW On/Off During Long-Term Pumping Test', {fs:19, fw:'bold'}));
G.push(txt(2318, 66, 'TSW On/Off After Long-Term Pumping Test', {fs:19, fw:'bold'}));
tableBlock(1223, 87, 573, 'Pump Off:', 'Pump On:', pumpOff1.slice(0,28), pumpOn1.slice(0,28), 118, 16.22);
tableBlock(1528, 87, 573, 'Pump Off:', 'Pump On:', pumpOff1.slice(28), pumpOn1.slice(28), 118, 16.22);
tableBlock(1861, 87, 573, 'Pump On:', 'Pump Off:', pumpOn2.slice(0,28), pumpOff2.slice(0,28), 118, 16.22);
tableBlock(2166, 87, 573, 'Pump On:', 'Pump Off:', pumpOn2.slice(28,56), pumpOff2.slice(28,56), 118, 16.22);
tableBlock(2471, 87, 394, 'Pump On:', 'Pump Off:', pumpOn2.slice(56), pumpOff2.slice(56), 118.6, 16.25);

chart.setOption({graphic:{elements:G}});
</script>
</body>
</html>
